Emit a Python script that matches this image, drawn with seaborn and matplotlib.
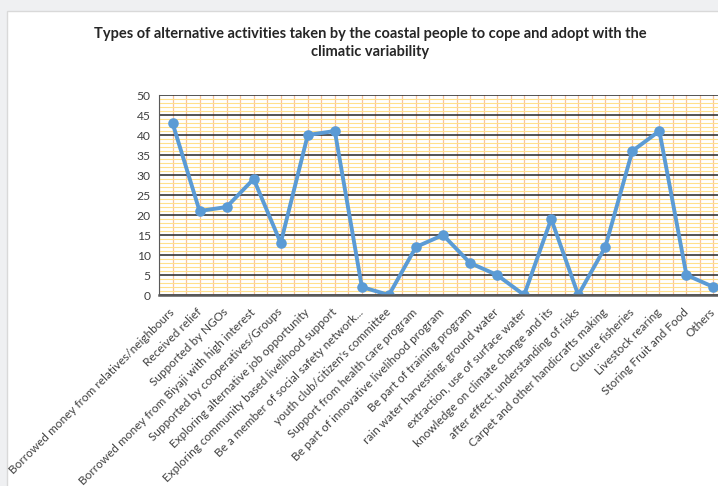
import numpy as np
import pandas as pd
import matplotlib
matplotlib.use("Agg")
import matplotlib.pyplot as plt
from matplotlib.patches import Rectangle
from matplotlib.ticker import MultipleLocator, FixedLocator
import seaborn as sns


# data
categories = [
    "Borrowed money from relatives/neighbours",
    "Received relief",
    "Supported by NGOs",
    "Borrowed money from Biyaji with high interest",
    "Supported by cooperatives/Groups",
    "Exploring alternative job opportunity",
    "Exploring community based livelihood support",
    "Be a member of social safety network...",
    "youth club/citizen's committee",
    "Support from health care program",
    "Be part of innovative livelihood program",
    "Be part of training program",
    "rain water harvesting; ground water",
    "extraction, use of surface water",
    "knowledge on climate change and its",
    "after effect; understanding of risks",
    "Carpet and other handicrafts making",
    "Culture fisheries",
    "Livestock rearing",
    "Storing Fruit and Food",
    "Others",
]
values = [43, 21, 22, 29, 13, 40, 41, 2, 0, 12, 15, 8, 5, 0, 19, 0, 12, 36, 41, 5, 2]
y_ticks = list(range(0, 51, 5))

title = ("Types of alternative activities taken by the coastal people to cope and adopt with the\n"
         "climatic variability")

df = pd.DataFrame({"activity": categories, "count": values})

sns.set_style("white")
plt.rcParams["font.family"] = ["Lato", "DejaVu Sans"]

fig = plt.figure(figsize=(7.18, 4.86), dpi=100)
fig.patch.set_facecolor("#eff0f2")
# white chart panel with a thin border, like the spreadsheet frame
fig.patches.append(Rectangle((7 / 718, -0.01), 1.0, (486 - 11) / 486 + 0.01,
                             transform=fig.transFigure, facecolor="white",
                             edgecolor="#d9d9d9", linewidth=1.0, zorder=-10))

ax = fig.add_axes([159 / 718, (486 - 295) / 486, 568 / 718, 200 / 486])
ax.set_facecolor("white")

sns.pointplot(data=df, x="activity", y="count", color="#5b9bd5",
              markers="o", markersize=5.5, linewidth=2.8, errorbar=None, ax=ax)

n = len(categories)
ax.set_xlim(-0.5, n - 0.5)
ax.set_ylim(y_ticks[0], y_ticks[-1])
ax.set_yticks(y_ticks)
ax.yaxis.set_minor_locator(MultipleLocator(1))
ax.xaxis.set_minor_locator(FixedLocator(np.arange(-0.5, n, 1.0)))

# grid: orange verticals, yellow minor horizontals, dark major horizontals
ax.grid(True, axis="x", which="both", color="#f8c29c", linewidth=0.9, zorder=0)
ax.grid(True, axis="y", which="minor", color="#ffe08a", linewidth=0.8, zorder=0)
ax.grid(True, axis="y", which="major", color="#262626", linewidth=1.1, zorder=0)
ax.set_axisbelow(True)

ax.set_xlabel("")
ax.set_ylabel("")
ax.set_xticks(range(n))
ax.set_xticklabels(categories, rotation=45, ha="right", va="center",
                   rotation_mode="anchor", fontsize=8.5, color="#404040")
ax.tick_params(axis="x", which="major", length=4, width=0.8, color="#595959", pad=7)
ax.tick_params(axis="x", which="minor", length=3, width=0.8, color="#595959")
ax.tick_params(axis="y", which="major", length=4, width=0.8, color="#595959",
               labelsize=8.7, labelcolor="#404040", pad=2)
ax.tick_params(axis="y", which="minor", length=2.5, width=0.6, color="#595959")

for side in ["top", "right"]:
    ax.spines[side].set_visible(False)
ax.spines["left"].set_color("#595959")
ax.spines["left"].set_linewidth(0.8)
ax.spines["bottom"].set_color("#595959")
ax.spines["bottom"].set_linewidth(1.8)

fig.text(370 / 718, 1 - 43 / 486, title, ha="center", va="center",
         fontsize=10.5, fontweight="bold", color="#262626", linespacing=1.35)

fig.savefig("out.png", dpi=100, facecolor=fig.get_facecolor())
